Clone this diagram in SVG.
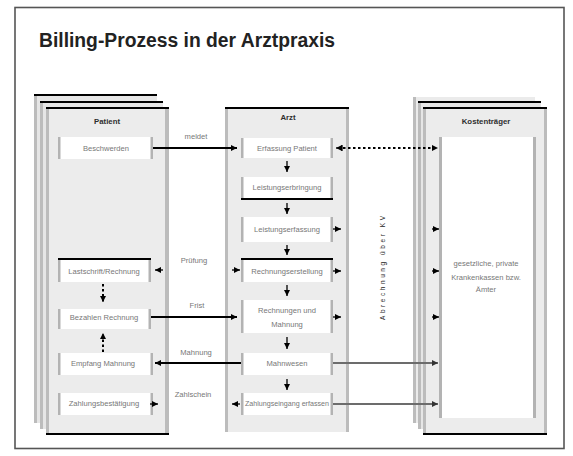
<svg xmlns="http://www.w3.org/2000/svg" width="573" height="456" viewBox="0 0 573 456">
<defs>
<style>
.page{fill:#ececec}
.pageb{fill:#e6e6e6}
.edge{fill:#bcbcbc}
.top{stroke:#000;stroke-width:2}
.box{fill:#fff}
.bedge{fill:#b3b3b3}
.t{font-family:"Liberation Sans",Arial,sans-serif;font-size:7.6px;fill:#777;text-anchor:middle}
.h{font-weight:bold;fill:#2e2e2e;font-size:7.8px}
.v{fill:#222;font-size:6.5px}
.con{stroke:#000;stroke-width:2;fill:none}
.dot{stroke-dasharray:2.5 2.5}
.gray{stroke:#6c6c6c}
.thin{stroke:#000;stroke-width:1.3;fill:none}
</style>
<marker id="ah" viewBox="0 0 6 6" refX="6" refY="3" markerWidth="6" markerHeight="6" markerUnits="userSpaceOnUse" orient="auto">
<path d="M0,0 L6,3 L0,6 z" fill="#000"/>
</marker>
<marker id="ahg" viewBox="0 0 6 6" refX="6" refY="3" markerWidth="6" markerHeight="6" markerUnits="userSpaceOnUse" orient="auto">
<path d="M0,0 L6,3 L0,6 z" fill="#333"/>
</marker>
</defs>

<rect x="0" y="0" width="573" height="456" fill="#fff"/>
<rect id="frame" x="15" y="7.5" width="549" height="441" fill="none" stroke="#555" stroke-width="1.6"/>
<text x="39" y="47" font-family="'Liberation Sans Narrow','Liberation Sans',Arial,sans-serif" font-weight="bold" font-size="20" fill="#222" textLength="296" lengthAdjust="spacingAndGlyphs">Billing-Prozess in der Arztpraxis</text>

<!-- Patient lane -->
<g id="lane-patient">
<rect class="pageb" x="34" y="94" width="123" height="329"/>
<rect class="edge" x="34" y="94" width="3" height="329"/>
<line class="top" x1="34" y1="95" x2="157" y2="95"/>
<rect class="pageb" x="40" y="101" width="123" height="328"/>
<rect class="edge" x="40" y="101" width="3" height="328"/>
<line class="top" x1="40" y1="102" x2="163" y2="102"/>
<rect class="page" x="46" y="107" width="123" height="327"/>
<rect class="edge" x="46" y="107" width="3" height="327"/>
<rect class="edge" x="165" y="107" width="4" height="327"/>
<line class="top" x1="46" y1="108" x2="169" y2="108"/>
<line class="top" x1="46" y1="434" x2="169" y2="434"/>
<text class="t h" x="107" y="124">Patient</text>
</g>

<!-- Arzt lane -->
<g id="lane-arzt">
<rect class="page" x="225" y="107" width="124" height="325"/>
<rect class="edge" x="225" y="107" width="3" height="325"/>
<rect class="edge" x="346" y="107" width="3" height="325"/>
<line class="top" x1="225" y1="108" x2="349" y2="108"/>
<text class="t h" x="288" y="120">Arzt</text>
</g>

<!-- Kostenträger lane -->
<g id="lane-kostentraeger">
<rect class="pageb" x="413" y="97" width="122" height="326" fill-opacity="0.8"/>
<rect class="edge" x="413" y="97" width="3" height="326"/>
<rect class="pageb" x="418" y="101" width="123" height="328"/>
<rect class="edge" x="418" y="101" width="3" height="328"/>
<line class="top" x1="418" y1="102" x2="541" y2="102"/>
<rect class="page" x="423" y="107" width="124" height="327"/>
<rect class="edge" x="423" y="107" width="3" height="327"/>
<rect class="edge" x="544" y="107" width="3" height="327"/>
<line class="top" x1="423" y1="108" x2="547" y2="108"/>
<line class="top" x1="423" y1="434" x2="547" y2="434"/>
<text class="t h" x="486" y="124">Kostenträger</text>
<rect class="box" x="442" y="137" width="91" height="281"/>
<rect class="bedge" x="439" y="137" width="3" height="281"/>
<rect class="bedge" x="533" y="137" width="3" height="281"/>
<text class="t" x="486" y="266">gesetzliche, private</text>
<text class="t" x="486" y="280">Krankenkassen bzw.</text>
<text class="t" x="486" y="292">Ämter</text>
</g>

<!-- Patient boxes -->
<g id="p1">
<rect class="box" x="58" y="137" width="95" height="22"/>
<rect class="bedge" x="58" y="137" width="2.5" height="22"/>
<rect class="bedge" x="150.5" y="137" width="2.5" height="22"/>
<text class="t" x="106" y="150.5">Beschwerden</text>
</g>
<g id="p2">
<rect class="box" x="58" y="258" width="93" height="24"/>
<rect class="bedge" x="58" y="258" width="2.5" height="24"/>
<rect class="bedge" x="148.5" y="258" width="2.5" height="24"/>
<line class="top" x1="58" y1="259" x2="151" y2="259"/>
<text class="t" x="104" y="274">Lastschrift/Rechnung</text>
</g>
<g id="p3">
<rect class="box" x="58" y="309" width="93" height="20"/>
<rect class="bedge" x="58" y="309" width="2.5" height="20"/>
<rect class="bedge" x="148.5" y="309" width="2.5" height="20"/>
<text class="t" x="104" y="320">Bezahlen Rechnung</text>
</g>
<g id="p4">
<rect class="box" x="58" y="353" width="95" height="22"/>
<rect class="bedge" x="58" y="353" width="2.5" height="22"/>
<rect class="bedge" x="150.5" y="353" width="2.5" height="22"/>
<text class="t" x="103" y="366">Empfang Mahnung</text>
</g>
<g id="p5">
<rect class="box" x="58" y="393" width="95" height="22"/>
<rect class="bedge" x="58" y="393" width="2.5" height="22"/>
<rect class="bedge" x="150.5" y="393" width="2.5" height="22"/>
<text class="t" x="104" y="406">Zahlungsbestätigung</text>
</g>

<!-- Arzt boxes -->
<g id="a1">
<rect class="box" x="241" y="138" width="92" height="20"/>
<rect class="bedge" x="241" y="138" width="2.5" height="20"/>
<rect class="bedge" x="330.5" y="138" width="2.5" height="20"/>
<text class="t" x="287" y="150.5">Erfassung Patient</text>
</g>
<g id="a2">
<rect class="box" x="241" y="177" width="92" height="22"/>
<rect class="bedge" x="241" y="177" width="2.5" height="22"/>
<rect class="bedge" x="330.5" y="177" width="2.5" height="22"/>
<line class="top" x1="241" y1="199" x2="333" y2="199"/>
<text class="t" x="287" y="190">Leistungserbringung</text>
</g>
<g id="a3">
<rect class="box" x="241" y="217" width="92" height="25"/>
<rect class="bedge" x="241" y="217" width="2.5" height="25"/>
<rect class="bedge" x="330.5" y="217" width="2.5" height="25"/>
<text class="t" x="287" y="232">Leistungserfassung</text>
</g>
<g id="a4">
<rect class="box" x="241" y="258" width="92" height="24"/>
<rect class="bedge" x="241" y="258" width="2.5" height="24"/>
<rect class="bedge" x="330.5" y="258" width="2.5" height="24"/>
<line class="top" x1="241" y1="259" x2="333" y2="259"/>
<text class="t" x="287" y="274">Rechnungserstellung</text>
</g>
<g id="a5">
<rect class="box" x="241" y="300" width="92" height="33"/>
<rect class="bedge" x="241" y="300" width="2.5" height="33"/>
<rect class="bedge" x="330.5" y="300" width="2.5" height="33"/>
<text class="t" x="287" y="313">Rechnungen und</text>
<text class="t" x="287" y="327">Mahnung</text>
</g>
<g id="a6">
<rect class="box" x="241" y="353" width="92" height="22"/>
<rect class="bedge" x="241" y="353" width="2.5" height="22"/>
<rect class="bedge" x="330.5" y="353" width="2.5" height="22"/>
<text class="t" x="287" y="366">Mahnwesen</text>
</g>
<g id="a7">
<rect class="box" x="241" y="393" width="92" height="22"/>
<rect class="bedge" x="241" y="393" width="2.5" height="22"/>
<rect class="bedge" x="330.5" y="393" width="2.5" height="22"/>
<text class="t" x="287" y="406" textLength="84" lengthAdjust="spacingAndGlyphs">Zahlungseingang erfassen</text>
</g>

<!-- Connectors -->
<g id="connectors">
<line class="con" x1="153" y1="148" x2="237" y2="148" marker-end="url(#ah)"/>
<line class="con dot" x1="343" y1="148" x2="438" y2="148" marker-end="url(#ah)"/>
<line class="thin" x1="342" y1="148" x2="336" y2="148" marker-end="url(#ah)"/>
<line class="thin" x1="342" y1="145" x2="342" y2="151"/>

<line class="thin" x1="287" y1="161" x2="287" y2="172" marker-end="url(#ah)"/>
<line class="thin" x1="287" y1="203" x2="287" y2="214" marker-end="url(#ah)"/>
<line class="thin" x1="287" y1="245" x2="287" y2="255" marker-end="url(#ah)"/>
<line class="thin" x1="287" y1="285" x2="287" y2="296" marker-end="url(#ah)"/>
<line class="thin" x1="287" y1="337" x2="287" y2="349" marker-end="url(#ah)"/>
<line class="thin" x1="287" y1="379" x2="287" y2="390" marker-end="url(#ah)"/>

<line class="con dot" x1="103" y1="284" x2="103" y2="302" stroke-width="1.6" marker-end="url(#ah)"/>
<line class="con dot" x1="103" y1="352" x2="103" y2="333" stroke-width="1.6" marker-end="url(#ah)"/>

<line class="thin" x1="163" y1="270" x2="155" y2="270" marker-end="url(#ah)"/>
<line class="thin" x1="232" y1="270" x2="240" y2="270" marker-end="url(#ah)"/>
<line class="con" x1="151" y1="317" x2="237" y2="317" marker-end="url(#ah)"/>
<line class="con" x1="241" y1="363" x2="155" y2="363" marker-end="url(#ah)"/>
<line class="thin" x1="150" y1="404" x2="158" y2="404" marker-end="url(#ah)"/>
<line class="thin" x1="240" y1="404" x2="232" y2="404" marker-end="url(#ah)"/>

<line class="thin" x1="333" y1="229" x2="341" y2="229" marker-end="url(#ah)"/>
<line class="thin" x1="333" y1="271" x2="341" y2="271" marker-end="url(#ah)"/>
<line class="thin" x1="333" y1="317" x2="341" y2="317" marker-end="url(#ah)"/>
<line class="thin" x1="432" y1="229" x2="439" y2="229" marker-end="url(#ah)"/>
<line class="thin" x1="432" y1="271" x2="439" y2="271" marker-end="url(#ah)"/>
<line class="thin" x1="432" y1="317" x2="439" y2="317" marker-end="url(#ah)"/>

<line class="con gray" x1="333" y1="363" x2="438" y2="363" marker-end="url(#ahg)"/>
<line class="con gray" x1="333" y1="404" x2="438" y2="404" marker-end="url(#ahg)"/>

<text class="t" x="196" y="139">meldet</text>
<text class="t" x="194" y="263">Prüfung</text>
<text class="t" x="197" y="308">Frist</text>
<text class="t" x="196" y="355">Mahnung</text>
<text class="t" x="193" y="397">Zahlschein</text>
<text class="t v" transform="translate(385,268) rotate(-90)" textLength="104" lengthAdjust="spacing">Abrechnung über KV</text>
</g>
</svg>
